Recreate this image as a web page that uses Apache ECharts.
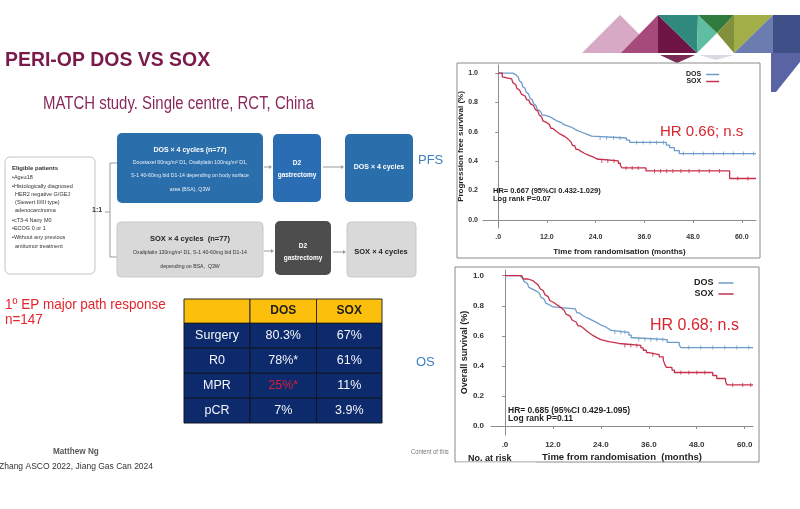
<!DOCTYPE html>
<html><head><meta charset="utf-8">
<script src="https://cdn.jsdelivr.net/npm/echarts@6/dist/echarts.min.js"></script>
<style>html,body{margin:0;padding:0;background:#fff}#c{width:800px;height:509px}</style>
</head><body><div id="c"></div><script>
// ---- data ----
const monthTicks = [0, 12, 24, 36, 48, 60];
const survTicks = [0, 0.2, 0.4, 0.6, 0.8, 1.0];
const seriesNames = ['DOS', 'SOX'];

const pfsDosT = [0,3.6,4.4,4.9,5.2,5.5,5.8,6.0,6.3,6.6,6.9,7.2,7.5,7.8,8.1,8.4,8.7,9.0,9.3,9.6,10.0,10.4,10.8,11.4,12.8,13.6,14.4,15.6,16.2,17.6,18.6,19.4,20.6,21.8,23.0,31.6,32.4,41.4,42.2,43.4,44.6,63.5];
const pfsDosS = [1.0,0.987,0.974,0.961,0.948,0.935,0.922,0.909,0.896,0.883,0.870,0.857,0.844,0.831,0.818,0.805,0.792,0.779,0.766,0.753,0.740,0.727,0.714,0.701,0.688,0.675,0.662,0.649,0.636,0.623,0.610,0.597,0.584,0.571,0.558,0.543,0.528,0.510,0.492,0.472,0.452,0.452];
const pfsSoxT = [0,1.0,1.1,3.3,3.6,3.9,4.3,4.6,4.9,5.3,5.7,6.1,6.6,7.0,7.5,7.9,8.3,8.7,9.1,9.5,9.8,10.1,10.4,10.7,11.0,11.4,12.0,12.6,13.0,13.5,14.0,14.6,15.3,16.2,16.9,17.4,17.9,18.3,18.8,19.2,19.7,20.4,21.2,22.2,23.5,24.3,29.6,30.1,30.5,36.4,57.0,63.5];
const pfsSoxS = [1.0,0.974,0.961,0.948,0.935,0.922,0.909,0.896,0.883,0.870,0.857,0.844,0.831,0.818,0.805,0.792,0.779,0.766,0.753,0.740,0.727,0.714,0.701,0.688,0.675,0.662,0.649,0.636,0.623,0.610,0.597,0.584,0.571,0.558,0.545,0.532,0.519,0.506,0.493,0.480,0.467,0.454,0.441,0.428,0.415,0.402,0.386,0.370,0.354,0.334,0.282,0.282];
const osDosT = [0,3.75,4.3,4.8,5.3,5.6,6.0,6.4,7.0,8.0,8.6,9.0,9.4,9.8,10.2,10.6,11.2,12.0,17.6,18.0,18.6,19.2,20.0,21.0,22.0,23.0,23.8,25.0,25.8,26.6,31.0,31.6,32.2,40.6,43.6,44.0,62.1];
const osDosS = [1.0,0.987,0.974,0.961,0.948,0.935,0.922,0.909,0.896,0.883,0.870,0.857,0.844,0.831,0.818,0.805,0.792,0.779,0.766,0.753,0.740,0.727,0.714,0.701,0.688,0.675,0.662,0.649,0.636,0.623,0.605,0.587,0.575,0.557,0.540,0.522,0.522];
const osSoxT = [0,4.2,4.6,5.8,7.1,7.7,8.3,8.8,9.2,9.6,10.0,10.4,10.8,11.2,11.6,12.2,12.9,13.6,14.2,14.8,15.3,15.8,16.3,16.8,17.3,17.8,18.3,18.9,19.5,20.1,20.7,21.4,22.1,23.0,24.0,26.0,28.6,34.0,34.6,35.4,36.0,38.6,39.6,40.0,40.4,41.8,42.4,52.0,53.0,55.2,55.6,62.1];
const osSoxS = [1.0,0.987,0.978,0.965,0.952,0.939,0.926,0.913,0.900,0.887,0.874,0.861,0.848,0.835,0.822,0.809,0.796,0.783,0.770,0.757,0.744,0.731,0.718,0.705,0.692,0.679,0.666,0.653,0.640,0.627,0.614,0.601,0.588,0.575,0.562,0.549,0.536,0.520,0.504,0.488,0.475,0.460,0.440,0.410,0.390,0.372,0.356,0.336,0.316,0.296,0.273,0.273];

const pfsDosCensT = [25.1,26.7,28.4,30.0,34.1,35.7,37.4,39.0,40.7,45.6,48.1,50.5,53.0,55.5,57.9,60.4,62.9];
const pfsDosCensS = [0.558,0.558,0.558,0.558,0.528,0.528,0.528,0.528,0.528,0.452,0.452,0.452,0.452,0.452,0.452,0.452,0.452];
const pfsSoxCensT = [25.5,27.0,28.5,31.5,33.0,34.5,38.5,40.0,41.5,43.0,45.0,47.0,49.5,52.0,54.5,59.0,61.5];
const pfsSoxCensS = [0.402,0.402,0.402,0.354,0.354,0.354,0.334,0.334,0.334,0.334,0.334,0.334,0.334,0.334,0.334,0.282,0.282];
const osDosCensT = [27.5,29.0,30.0,33.5,35.0,36.5,38.0,39.5,46.0,49.0,52.0,55.0,58.0,61.0];
const osDosCensS = [0.623,0.623,0.623,0.575,0.575,0.575,0.575,0.575,0.522,0.522,0.522,0.522,0.522,0.522];
const osSoxCensT = [30.0,31.5,33.0,37.0,44.0,46.0,48.0,50.0,57.0,59.5,61.5];
const osSoxCensS = [0.536,0.536,0.536,0.475,0.356,0.356,0.356,0.356,0.273,0.273,0.273];

const tableHeader = ['', 'DOS', 'SOX'];
const tableRows = [['Surgery','80.3%','67%'],['R0','78%*','61%'],['MPR','25%*','11%'],['pCR','7%','3.9%']];

// ---- helpers ----
const zip = (t, s) => t.map((v, i) => [v, s[i]]);
const FF = '"Liberation Sans", Arial, sans-serif';
const BLUE = '#6d9ccb', RED = '#c6304c';
const G = [];
function rect(x, y, w, h, fill, stroke, r, lw, z) {
  G.push({type:'rect', z: z||1, shape:{x, y, width:w, height:h, r: r||0},
    style:{fill: fill||'none', stroke: stroke||null, lineWidth: lw||1}});
}
function txt(x, y, text, font, fill, align, sx, z) {
  G.push({type:'text', x, y, z: z||2, scaleX: sx||1,
    style:{text, font: font + ' ' + FF, fill, textAlign: align||'left', textVerticalAlign:'middle'}});
}
function poly(points, fill) { G.push({type:'polygon', z:1, shape:{points}, style:{fill}}); }
function line(x1, y1, x2, y2, stroke, lw) { G.push({type:'line', z:1, shape:{x1,y1,x2,y2}, style:{stroke, lineWidth: lw||1}}); }
function arrow(x1, x2, y) { line(x1, y, x2-3, y, '#9a9a9a', 1); poly([[x2-3,y-2],[x2,y],[x2-3,y+2]], '#9a9a9a'); }

// ---- decorative triangles ----
poly([[582,53],[620,15],[658,53]], '#d7a9c4');
poly([[621,53],[658,15],[658,53]], '#a54a7b');
poly([[658,15],[697,53],[658,53]], '#6e1545');
poly([[658,15],[698,15],[697,53]], '#2f8a7d');
poly([[698,15],[717,33],[697,53]], '#5dbea2');
poly([[698,15],[734,15],[717,33]], '#2f7a3c');
poly([[717,33],[734,15],[734,53]], '#83903b');
poly([[734,15],[773,15],[734,53]], '#a2ae47');
poly([[773,15],[773,53],[734,53]], '#6d7cb0');
poly([[773,15],[800,15],[800,53],[773,53]], '#3f4f88');
poly([[660,55],[695,55],[677,63]], '#7a2a55');
poly([[699,55],[734,55],[716,60]], '#dcd8e6');
poly([[771,53],[800,53],[800,62],[776,92],[771,92]], '#5a63a3');

// ---- titles ----
txt(5, 60, 'PERI-OP DOS VS SOX', 'bold 21px', '#7a1a4a', 'left', 0.925);
txt(43, 104, 'MATCH study. Single centre, RCT, China', '18px', '#8a2a5c', 'left', 0.83);

// ---- flowchart ----
rect(5, 157, 90, 117, '#ffffff', '#c4c4c4', 5, 1);
const elig = [['Eligible patients', true], ['•Age≥18'], ['•Histologically diagnosed'], ['  HER2 negative G/GEJ'], ['  (Siewert II/III type)'], ['  adenocarcinoma'], ['•cT3-4 Nany M0'], ['•ECOG 0 or 1'], ['•Without any previous'], ['  antitumor treatment']];
const eligY = [168, 177.5, 186, 194, 202, 210, 220, 228.5, 237.5, 246];
elig.forEach((e, i) => txt(12, eligY[i], e[0], (e[1] ? 'bold 6px' : '5.5px'), '#333', 'left'));
txt(92, 210, '1:1', 'bold 7px', '#333', 'left');
line(105, 212, 110, 212, '#9a9a9a', 1);
line(110, 163, 110, 257, '#9a9a9a', 1);
line(110, 163, 117, 163, '#9a9a9a', 1);
line(110, 257, 117, 257, '#9a9a9a', 1);

rect(117, 133, 146, 70, '#2a6eab', null, 5);
txt(190, 150, 'DOS × 4 cycles (n=77)', 'bold 7px', '#ffffff', 'center');
txt(190, 163, 'Docetaxel 60mg/m² D1, Oxaliplatin 100mg/m² D1,', '5.2px', '#e6eef7', 'center');
txt(190, 176, 'S-1 40-60mg bid D1-14 depending on body surface', '5.2px', '#e6eef7', 'center');
txt(190, 190, 'area (BSA), Q3W', '5.2px', '#e6eef7', 'center');
arrow(264, 272, 167);
rect(273, 134, 48, 68, '#2b6db2', null, 5);
txt(297, 163, 'D2', 'bold 6.5px', '#ffffff', 'center');
txt(297, 175, 'gastrectomy', 'bold 6.5px', '#ffffff', 'center');
arrow(323, 344, 167);
rect(345, 134, 68, 68, '#2a6eab', null, 5);
txt(379, 167, 'DOS × 4 cycles', 'bold 7px', '#ffffff', 'center');

rect(117, 222, 146, 55, '#d9d9d9', '#c9c9c9', 4);
txt(190, 238.5, 'SOX × 4 cycles  (n=77)', 'bold 7.5px', '#222', 'center');
txt(190, 253, 'Oxaliplatin 130mg/m² D1, S-1 40-60mg bid D1-14', '5.2px', '#333', 'center');
txt(190, 266.5, 'depending on BSA,  Q3W', '5.2px', '#333', 'center');
arrow(264, 274, 251);
rect(275, 221, 56, 54, '#4d4d4d', null, 5);
txt(303, 246.5, 'D2', 'bold 6.5px', '#ffffff', 'center');
txt(303, 258.5, 'gastrectomy', 'bold 6.5px', '#ffffff', 'center');
arrow(333, 346, 252);
rect(347, 222, 69, 55, '#d9d9d9', '#c9c9c9', 4);
txt(381, 252, 'SOX × 4 cycles', 'bold 7.5px', '#222', 'center');

// ---- PFS / OS labels ----
txt(418, 160, 'PFS', '13px', '#3e7fc0', 'left');
txt(416, 362, 'OS', '13px', '#3e7fc0', 'left');

// ---- primary endpoint text ----
txt(5, 305, '1º EP major path response', '14.5px', '#e3242f', 'left', 0.93);
txt(5, 320, 'n=147', '14.5px', '#e3242f', 'left', 0.93);

// ---- table ----
const colX = [184, 250, 316.5, 382];
const rowY = [299, 323.3, 348.3, 373.3, 398.3, 423];
for (let c = 0; c < 3; c++) {
  rect(colX[c], rowY[0], colX[c+1]-colX[c], rowY[1]-rowY[0], '#fbbf0c', '#2a2a2a', 0, 1);
  if (tableHeader[c]) txt((colX[c]+colX[c+1])/2, (rowY[0]+rowY[1])/2, tableHeader[c], 'bold 12px', '#1d1d1d', 'center');
}
tableRows.forEach((row, r) => {
  row.forEach((cell, c) => {
    rect(colX[c], rowY[r+1], colX[c+1]-colX[c], rowY[r+2]-rowY[r+1], '#0d2a6c', '#101624', 0, 1);
    const red = (r === 2 && c === 1);
    txt((colX[c]+colX[c+1])/2, (rowY[r+1]+rowY[r+2])/2, cell, '12.5px', red ? '#d8203a' : '#f4f6fb', 'center');
  });
});

// ---- footer ----
txt(53, 452, 'Matthew Ng', 'bold 8.5px', '#5a5a5a', 'left', 0.96);
txt(-1, 467, 'Zhang ASCO 2022, Jiang Gas Can 2024', '8.5px', '#333', 'left');
txt(411, 452, 'Content of this', '6.5px', '#777', 'left', 0.9);

// ---- KM frames & annotations ----
rect(457, 63, 303, 195, null, '#8a8a8a', 0, 1);
rect(455, 267, 304, 195, null, '#8a8a8a', 0, 1);
txt(660, 132, 'HR 0.66; n.s', '15px', '#d9252f', 'left');
txt(493, 191, 'HR= 0.667 (95%CI 0.432-1.029)', 'bold 7.5px', '#222', 'left');
txt(493, 198.5, 'Log rank P=0.07', 'bold 7.5px', '#222', 'left');
txt(650, 326, 'HR 0.68; n.s', '16px', '#d9252f', 'left');
txt(508, 410.5, 'HR= 0.685 (95%CI 0.429-1.095)', 'bold 8.5px', '#222', 'left');
txt(508, 418.5, 'Log rank P=0.11', 'bold 8.5px', '#222', 'left');
txt(468, 459, 'No. at risk', 'bold 9px', '#222', 'left');
G.push({type:'rect', z:50, shape:{x:456, y:462.5, width:80, height:10}, style:{fill:'#ffffff'}});

// ---- chart ----
const axisBase = (min, max, vals, fmt, fs, margin) => ({
  type:'value', min, max,
  axisLine:{show:true, lineStyle:{color:'#8c8c8c', width:1}},
  axisTick:{show:true, length:3, customValues: vals, lineStyle:{color:'#8c8c8c'}},
  axisLabel:{customValues: vals, formatter: fmt, fontSize: fs, fontWeight:'bold', color:'#333', fontFamily: FF, margin},
  splitLine:{show:false}
});
const fmtX = v => v === 0 ? '.0' : v.toFixed(1);
const fmtY = v => v.toFixed(1);

const xP = axisBase(-3.75, 63.5, monthTicks, fmtX, 7, 6);
Object.assign(xP, {gridIndex:0, name:'Time from randomisation (months)', nameLocation:'middle', nameGap:20,
  nameTextStyle:{fontSize:8, fontWeight:'bold', color:'#222', fontFamily:FF}});
const yP = axisBase(-0.055, 1.055, survTicks, fmtY, 7, 5);
Object.assign(yP, {gridIndex:0, name:'Progression free survival (%)', nameLocation:'middle', nameGap:17, nameRotate:90,
  nameTextStyle:{fontSize:8, fontWeight:'bold', color:'#222', fontFamily:FF}});
const xO = axisBase(-3.5, 62.08, monthTicks, fmtX, 8, 6);
Object.assign(xO, {gridIndex:1, name:'Time from randomisation  (months)', nameLocation:'middle', nameGap:17,
  nameTextStyle:{fontSize:9.5, fontWeight:'bold', color:'#222', fontFamily:FF}});
const yO = axisBase(-0.06, 1.038, survTicks, fmtY, 8, 7);
Object.assign(yO, {gridIndex:1, name:'Overall survival (%)', nameLocation:'middle', nameGap:20, nameRotate:90,
  nameTextStyle:{fontSize:9, fontWeight:'bold', color:'#222', fontFamily:FF}});

const km = (name, data, color, gi) => ({name, type:'line', step:'end', data, xAxisIndex:gi, yAxisIndex:gi,
  showSymbol:false, symbol:'none', lineStyle:{color, width:1.3}, itemStyle:{color}, animation:false, z:3});
const cens = (name, data, color, gi) => ({name, type:'scatter', data, xAxisIndex:gi, yAxisIndex:gi,
  symbol:'rect', symbolSize:[1,4], itemStyle:{color}, animation:false, z:4});

const chart = echarts.init(document.getElementById('c'), null, {renderer:'canvas'});
chart.setOption({
  backgroundColor:'#ffffff',
  animation:false,
  grid:[
    {left:483, top:65, width:273, height:163},
    {left:491, top:270, width:262, height:165}
  ],
  xAxis:[xP, xO],
  yAxis:[yP, yO],
  legend:[
    {data:seriesNames, left:686, top:71, orient:'vertical', align:'right', icon:'rect', itemWidth:13, itemHeight:1.5,
      itemGap:0, padding:0, textStyle:{fontSize:7, fontWeight:'bold', color:'#222', fontFamily:FF, lineHeight:7}},
    {data:seriesNames, left:694, top:278, orient:'vertical', align:'right', icon:'rect', itemWidth:15, itemHeight:1.5,
      itemGap:1, padding:0, textStyle:{fontSize:9, fontWeight:'bold', color:'#222', fontFamily:FF, lineHeight:10}}
  ],
  series:[
    km('DOS', zip(pfsDosT, pfsDosS), BLUE, 0),
    km('SOX', zip(pfsSoxT, pfsSoxS), RED, 0),
    km('DOS', zip(osDosT, osDosS), BLUE, 1),
    km('SOX', zip(osSoxT, osSoxS), RED, 1),
    cens('DOS', zip(pfsDosCensT, pfsDosCensS), BLUE, 0),
    cens('SOX', zip(pfsSoxCensT, pfsSoxCensS), RED, 0),
    cens('DOS', zip(osDosCensT, osDosCensS), BLUE, 1),
    cens('SOX', zip(osSoxCensT, osSoxCensS), RED, 1)
  ],
  graphic:{elements:G}
});
</script></body></html>
